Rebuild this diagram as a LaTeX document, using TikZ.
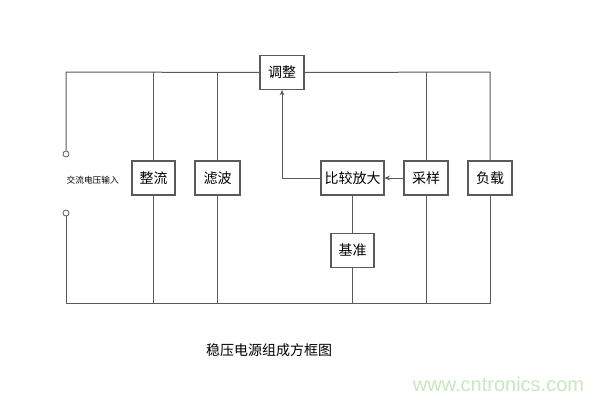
\documentclass[tikz,border=0pt]{standalone}
\usepackage{fontspec}
\newfontfamily\cjk{Noto Sans CJK SC}
\setsansfont{Liberation Sans}
\usetikzlibrary{arrows.meta}
\definecolor{wire}{RGB}{90,90,90}
\definecolor{wm}{RGB}{200,232,190}
\tikzset{
  blk/.style={draw=wire, line width=0.8pt, minimum height=25.5pt, minimum width=33pt, inner sep=0pt, font=\cjk\fontsize{10.5pt}{12pt}\selectfont},
  wireline/.style={draw=wire, line width=0.75pt},
  term/.style={circle, draw=wire, line width=0.6pt, fill=white, minimum size=4.5pt, inner sep=0pt},
  arr/.style={-{Stealth[length=4pt,width=3.5pt]}},
}
\begin{document}
\begin{tikzpicture}[x=0.75pt,y=-0.75pt]
\useasboundingbox (0,0) rectangle (600,400);
\fill[white] (0,0) rectangle (600,400);
% blocks
\node[blk] (tz) at (282,72.5) {调整};
\node[blk, minimum width=32.25pt] (zl) at (153.5,178) {整流};
\node[blk, minimum width=33.75pt] (lb) at (217.5,178) {滤波};
\node[blk, minimum width=47.25pt] (bj) at (352.5,178) {比较放大};
\node[blk] (cy) at (426,178) {采样};
\node[blk] (fz) at (490,178) {负载};
\node[blk, minimum width=32.25pt] (jz) at (352.5,250.5) {基准};
% terminals
\node[term] (t1) at (66,154) {};
\node[term] (t2) at (66,213) {};
\node[font=\cjk\fontsize{6.5pt}{8pt}\selectfont, anchor=west] (lbl) at (62,180) {交流电压输入};
% corner coordinates
\coordinate (tl) at (66,72);
\coordinate (tr) at (490,72);
\coordinate (bl) at (66,303);
\coordinate (br) at (490,303);
% top rail
\draw[wireline] (t1.north) -- (tl) -- (tz.west);
\draw[wireline] (tz.east) -- (tr) -- (fz.north);
\draw[wireline] (zl.north) -- (zl.north |- tl);
\draw[wireline] (lb.north) -- (lb.north |- tl);
\draw[wireline] (cy.north) -- (cy.north |- tl);
% bottom rail
\draw[wireline] (t2.south) -- (bl) -- (br) -- (fz.south);
\draw[wireline] (zl.south) -- (zl.south |- bl);
\draw[wireline] (lb.south) -- (lb.south |- bl);
\draw[wireline] (jz.south) -- (jz.south |- bl);
\draw[wireline] (cy.south) -- (cy.south |- bl);
\draw[wireline] (bj.south) -- (jz.north);
% feedback
\draw[wireline, arr] (cy.west) -- (bj.east);
\draw[wireline, arr] (bj.west) -| (tz.south);
% title
\node[font=\cjk\fontsize{10.5pt}{12pt}\selectfont, inner sep=0pt] (title) at (269,350) {稳压电源组成方框图};
\node[font=\sffamily\fontsize{15pt}{17pt}\selectfont, text=wm, inner sep=0pt] (wmark) at (498.5,384) {www.cntronics.com};
\end{tikzpicture}
\end{document}
